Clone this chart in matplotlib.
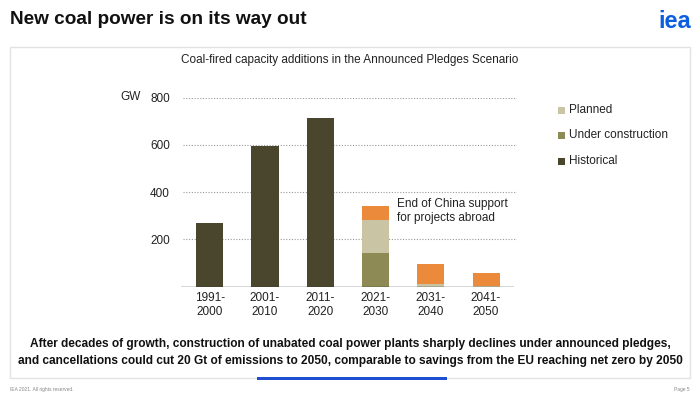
import numpy as np
import matplotlib.pyplot as plt
from matplotlib.patches import Rectangle

plt.rcParams['font.family'] = ['Liberation Sans', 'DejaVu Sans']

PERIODS = ["1991-\n2000", "2001-\n2010", "2011-\n2020", "2021-\n2030", "2031-\n2040", "2041-\n2050"]
HISTORICAL = [269, 596, 716, 0, 0, 0]
UNDER_CONSTRUCTION = [0, 0, 0, 141, 0, 0]
PLANNED = [0, 0, 0, 141, 9, 3]
CHINA_END = [0, 0, 0, 59, 85, 56]
YTICKS = [200, 400, 600, 800]

C_HIST = "#4a462d"
C_UC = "#8e8a56"
C_PLAN = "#c9c4a3"
C_ORANGE = "#ec8a3b"

W, H = 700, 397
fig = plt.figure(figsize=(7, 3.97), dpi=100)

def fx(px): return px / W
def fy(py): return 1 - py / H

# panel box and blue marker
fig.patches.append(Rectangle((fx(10), fy(378)), fx(680), 331 / H, transform=fig.transFigure,
                             facecolor="white", edgecolor="#e2e2e2", lw=1, zorder=-5))
fig.patches.append(Rectangle((fx(257), fy(379.5)), fx(190), 3 / H, transform=fig.transFigure,
                             facecolor="#1f4fd1", edgecolor="none", zorder=1))

fig.text(fx(10), fy(20), "New coal power is on its way out", fontsize=13.7, fontweight="bold",
         va="center", ha="left", color="#111111")
fig.text(fx(691), fy(21), "iea", fontsize=17, fontweight="bold", va="center", ha="right",
         color="#0b5ee0")
fig.text(0.5, fy(60), "Coal-fired capacity additions in the Announced Pledges Scenario",
         fontsize=8.5, ha="center", va="center", color="#222222")

ax = fig.add_axes([fx(181), fy(286.6), fx(336), (286.6 - 97.7) / H], zorder=3)
x = np.arange(len(PERIODS))
bw = 0.49
hist = np.array(HISTORICAL); uc = np.array(UNDER_CONSTRUCTION)
plan = np.array(PLANNED); cn = np.array(CHINA_END)
ax.bar(x, hist, bw, color=C_HIST, zorder=3)
ax.bar(x, uc, bw, bottom=hist, color=C_UC, zorder=3)
ax.bar(x, plan, bw, bottom=hist + uc, color=C_PLAN, zorder=3)
ax.bar(x, cn, bw, bottom=hist + uc + plan, color=C_ORANGE, zorder=3)

ax.set_xlim(-0.52, 5.56)
ax.set_ylim(0, 800)
for v in YTICKS:
    ax.axhline(v, color="#999999", lw=0.8, ls=(0, (1, 1.5)), zorder=1, xmin=0.006, xmax=1)
ax.axhline(0, color="#333333", lw=1, zorder=4, xmax=0.988)
for s in ax.spines.values():
    s.set_visible(False)
ax.set_yticks(YTICKS)
ax.set_yticklabels([str(v) for v in YTICKS], fontsize=8.5, color="#222222")
ax.set_xticks(x)
ax.set_xticklabels(PERIODS, fontsize=8.5, color="#222222", linespacing=1.25)
ax.tick_params(axis="y", length=0, pad=8)
ax.tick_params(axis="x", length=0, pad=4)
ax.patch.set_alpha(0)

fig.text(fx(120), fy(97.5), "GW", fontsize=8.5, va="center", ha="left", color="#222222")
fig.text(fx(397), fy(211), "End of China support\nfor projects abroad", fontsize=8.5,
         va="center", ha="left", color="#222222", linespacing=1.2)

for label, color, py in [("Planned", C_PLAN, 110), ("Under construction", C_UC, 135),
                         ("Historical", C_HIST, 161)]:
    fig.patches.append(Rectangle((fx(558), fy(py + 3.5)), fx(7), 7 / H, transform=fig.transFigure,
                                 facecolor=color, edgecolor="none"))
    fig.text(fx(569), fy(py), label, fontsize=8.5, va="center", ha="left", color="#222222")

fig.text(0.5, fy(344), "After decades of growth, construction of unabated coal power plants sharply declines under announced pledges,",
         fontsize=8.6, fontweight="bold", ha="center", va="center", color="#111111")
fig.text(0.5, fy(361), "and cancellations could cut 20 Gt of emissions to 2050, comparable to savings from the EU reaching net zero by 2050",
         fontsize=8.6, fontweight="bold", ha="center", va="center", color="#111111")

fig.text(fx(10), fy(389), "IEA 2021. All rights reserved.", fontsize=3.5, color="#888888",
         va="center", ha="left")
fig.text(fx(690), fy(389), "Page 5", fontsize=3.5, color="#888888", va="center", ha="right")

fig.savefig("out.png", dpi=100, facecolor="white")
